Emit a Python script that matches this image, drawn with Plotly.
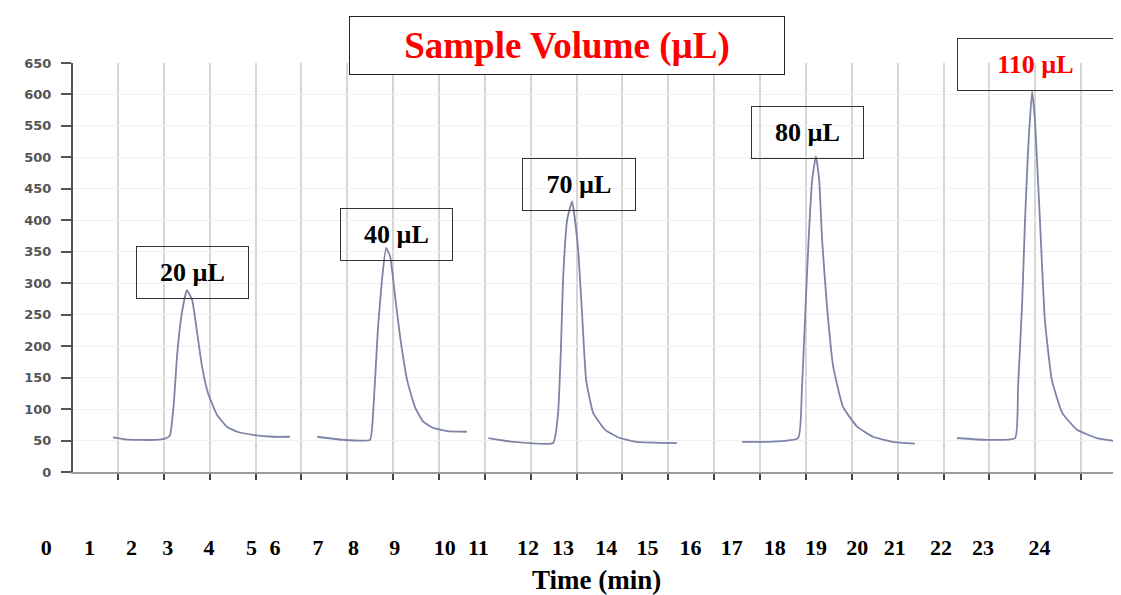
import plotly.graph_objects as go

# chromatogram segments: time (min) and detector signal
t_20 = [1.60, 1.89, 2.25, 2.62, 2.86, 2.98, 3.08, 3.15, 3.27, 3.39, 3.52, 3.64, 3.76, 3.90, 4.12, 4.36, 4.61, 4.99, 5.48, 5.89]
s_20 = [55, 52, 51, 51, 53, 58, 114, 183, 253, 289, 273, 221, 167, 126, 91, 72, 64, 59, 56, 56]

t_40 = [6.55, 7.18, 7.83, 7.90, 8.02, 8.12, 8.22, 8.32, 8.44, 8.56, 8.73, 8.92, 9.12, 9.36, 9.70, 10.18]
s_40 = [56, 51, 51, 87, 226, 305, 356, 342, 278, 215, 146, 103, 80, 70, 65, 64]

t_70 = [10.70, 11.30, 12.27, 12.39, 12.46, 12.51, 12.61, 12.73, 12.87, 12.97, 13.07, 13.24, 13.53, 13.89, 14.30, 15.27]
s_70 = [54, 48, 46, 94, 199, 305, 401, 430, 358, 253, 146, 94, 67, 54, 48, 46]

t_80 = [16.85, 17.53, 18.21, 18.30, 18.38, 18.46, 18.55, 18.64, 18.72, 18.79, 18.91, 19.06, 19.30, 19.64, 20.02, 20.51, 21.04]
s_80 = [48, 48, 54, 130, 250, 365, 465, 502, 464, 369, 262, 167, 103, 72, 56, 48, 45]

t_110 = [22.06, 22.79, 23.47, 23.54, 23.64, 23.71, 23.78, 23.88, 23.95, 24.07, 24.19, 24.36, 24.61, 24.97, 25.45, 26.01]
s_110 = [54, 51, 54, 135, 269, 401, 507, 605, 559, 401, 242, 146, 94, 67, 54, 48]

volumes = ["20 µL", "40 µL", "70 µL", "80 µL", "110 µL"]

time_labels = [str(i) for i in range(25)]
label_at = [-0.02, 1.03, 2.05, 2.93, 3.93, 4.96, 5.53, 6.57, 7.43, 8.43, 9.64, 10.46, 11.66,
            12.51, 13.56, 14.56, 15.60, 16.60, 17.64, 18.64, 19.64, 20.55, 21.67, 22.69, 24.06]

# the page body adds an 8 px margin, so the figure is made that much smaller
OFF = 8
W, H = 1121 - OFF, 595 - OFF
SERIF = "Liberation Serif"


def px(x):
    return (x - OFF) / W


def py(y):
    return (H - (y - OFF)) / H


fig = go.Figure()

for t, s in [(t_20, s_20), (t_40, s_40), (t_70, s_70), (t_80, s_80), (t_110, s_110)]:
    fig.add_trace(go.Scatter(
        x=t, y=s, mode="lines",
        line=dict(color="#7d84a6", width=1.8, shape="spline", smoothing=0.4),
        showlegend=False, hoverinfo="skip",
    ))

# carrier for the hand-placed time labels row
fig.add_trace(go.Scatter(
    x=label_at, y=[0] * len(label_at), xaxis="x2", yaxis="y2", mode="markers",
    marker=dict(opacity=0), showlegend=False, hoverinfo="skip",
))

# peak label boxes (centre x, centre y, width in px)
boxes = [(192.5, 272.5, 113), (396.5, 234.5, 113), (579, 184.5, 114), (807.5, 132.5, 113), (1035.5, 64.5, 157)]
for (cx, cy, bw), txt in zip(boxes, volumes):
    fig.add_annotation(
        xref="paper", yref="paper", x=px(cx), y=py(cy), xanchor="center", yanchor="middle",
        text=txt, showarrow=False, width=bw - 2, height=51, borderpad=0,
        bordercolor="#333333", borderwidth=1,
        font=dict(family=SERIF, size=26, weight="bold", color="#ff0000" if txt == "110 µL" else "#000000"),
    )

fig.add_annotation(
    xref="paper", yref="paper", x=px(567), y=py(45.5), xanchor="center", yanchor="middle",
    text="Sample Volume (µL)", showarrow=False, width=434, height=57, borderpad=0,
    bgcolor="white", bordercolor="#222222", borderwidth=1,
    font=dict(family=SERIF, size=37, weight="bold", color="#ff0000"),
)

fig.add_annotation(
    xref="paper", yref="paper", x=px(596), y=py(580), xanchor="center", yanchor="middle",
    text="Time (min)", showarrow=False,
    font=dict(family=SERIF, size=27, weight="bold", color="#000000"),
)

fig.update_layout(
    template="none",
    width=W, height=H,
    margin=dict(l=0, r=0, t=0, b=0),
    paper_bgcolor="white", plot_bgcolor="white",
    xaxis=dict(
        domain=[px(73), 1], range=[0.630, 26.036], automargin=False,
        tick0=1.721, dtick=1.1118, ticks="outside", ticklen=6, tickwidth=2, tickcolor="#444444",
        showticklabels=False, showline=True, linecolor="#9a9a9a", linewidth=2,
        showgrid=True, gridcolor="#d6d6d6", gridwidth=1.5, zeroline=False,
    ),
    yaxis=dict(
        domain=[py(472), py(63)], range=[0, 650], dtick=50, automargin=False,
        ticks="outside", ticklen=10, tickwidth=2, tickcolor="#555555", ticklabelstandoff=7,
        showline=True, linecolor="#555555", linewidth=2,
        showgrid=True, gridcolor="#efefef", gridwidth=1, zeroline=False,
        tickfont=dict(family="DejaVu Sans", size=13, weight="bold", color="#555555"),
    ),
    xaxis2=dict(
        domain=[0, 1], range=[-1.139 + OFF / 41.25, 26.036], anchor="free", position=py(532),
        automargin=False, tickvals=label_at, ticktext=time_labels, ticks="", showline=False,
        showgrid=False, zeroline=False,
        tickfont=dict(family=SERIF, size=22, weight="bold", color="#000000"),
    ),
    yaxis2=dict(domain=[0, 0.01], anchor="x2", visible=False),
)

fig.write_html("out.html")
